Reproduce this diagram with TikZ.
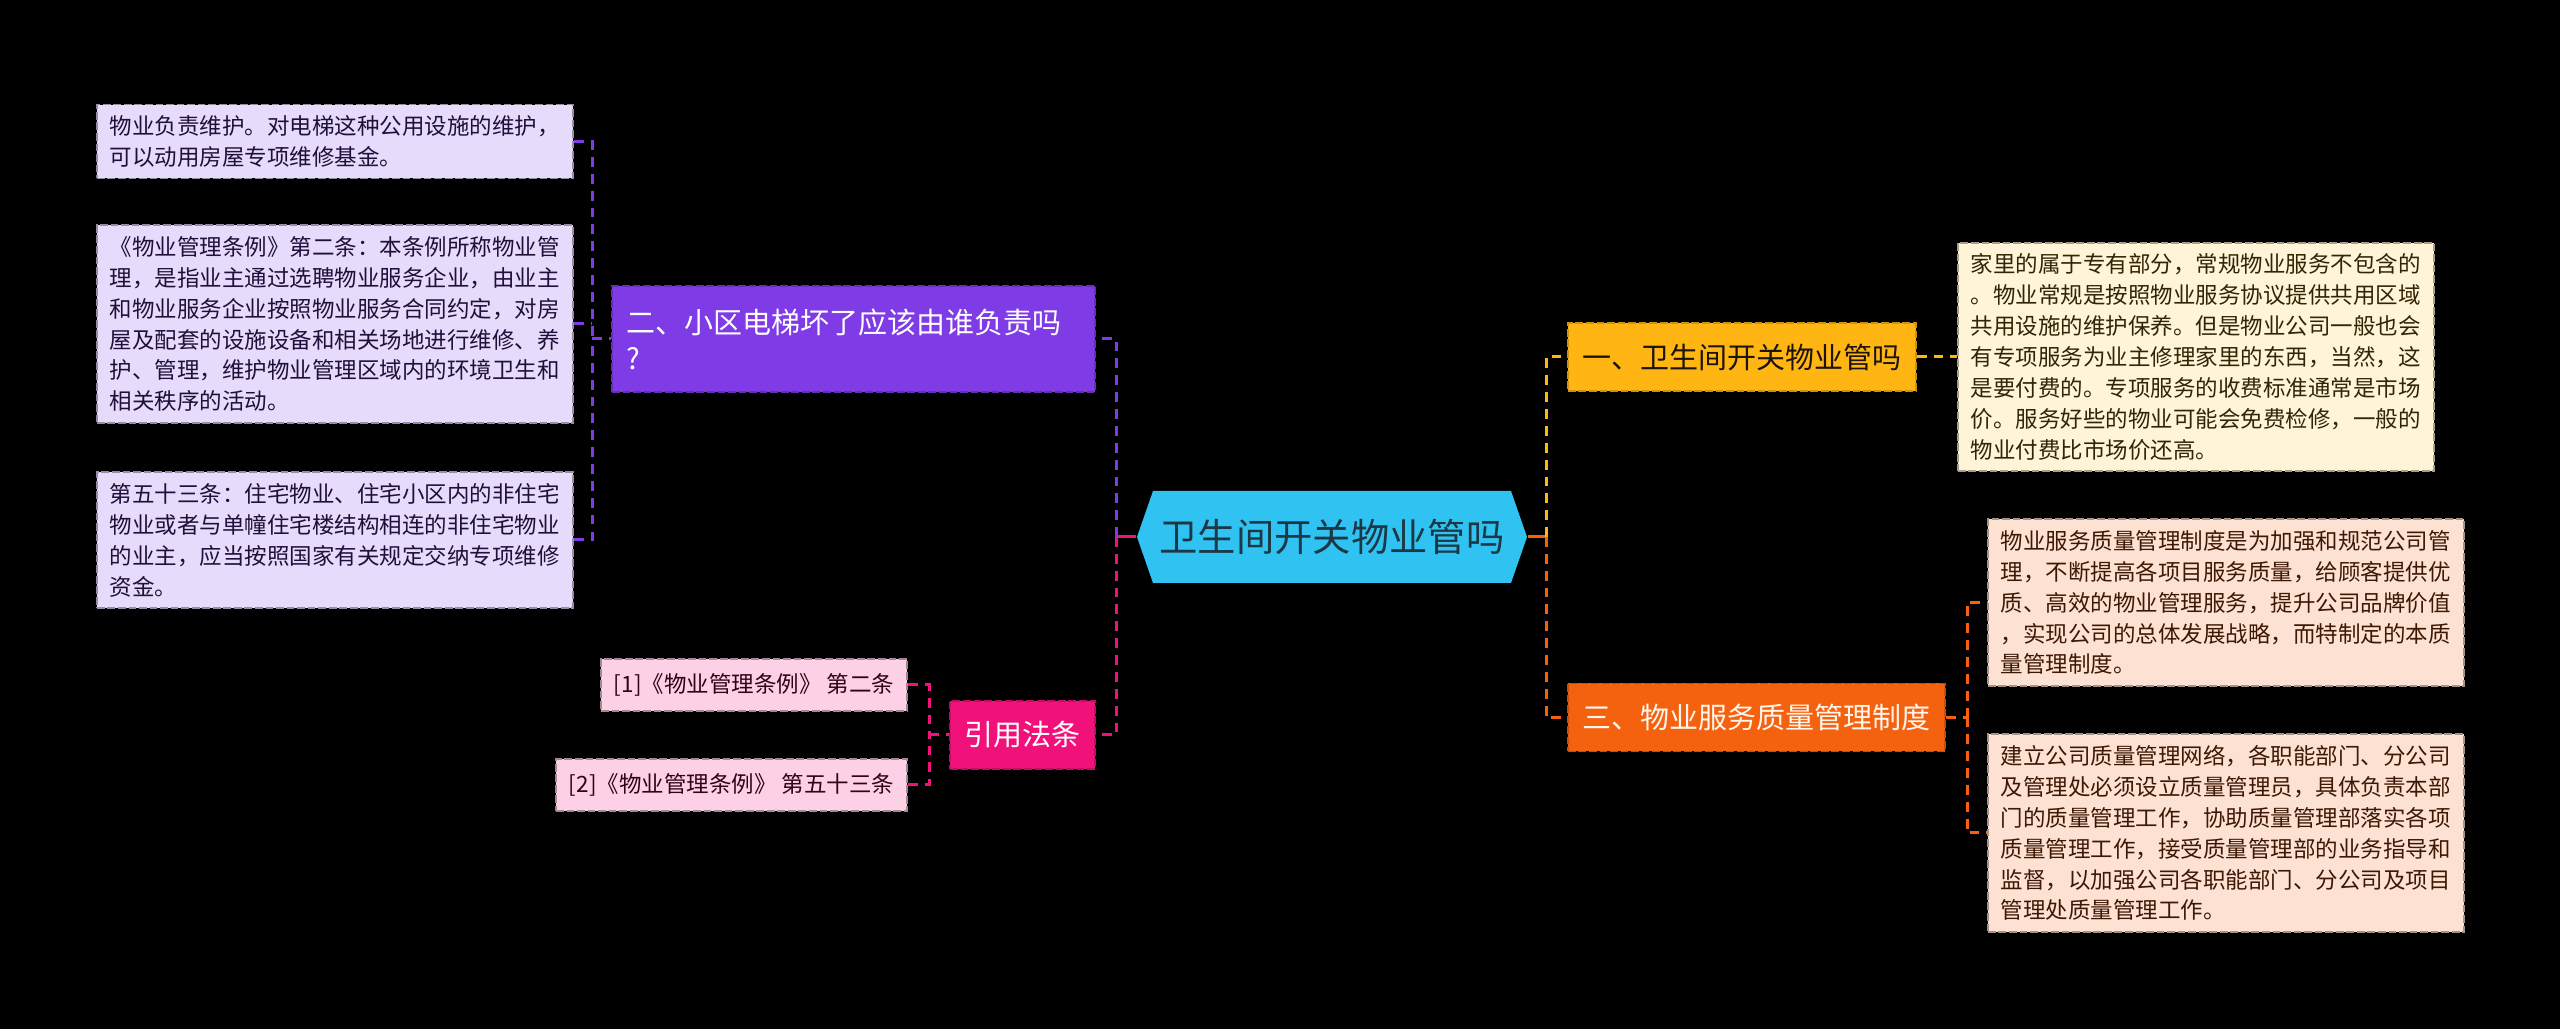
\documentclass[tikz,border=0pt]{standalone}
\usepackage{fontspec}
\setmainfont{Noto Sans CJK SC}
\usetikzlibrary{positioning,calc}
\definecolor{mmroot}{HTML}{30C3F1}
\definecolor{mmrootink}{HTML}{1C3846}
\definecolor{mmyellow}{HTML}{FFB612}
\definecolor{mmorange}{HTML}{F5620F}
\definecolor{mmpurple}{HTML}{7E3BE6}
\definecolor{mmpink}{HTML}{F0127A}
\definecolor{lfpurple}{HTML}{E6DBFA}
\definecolor{lfyellow}{HTML}{FFF4D8}
\definecolor{lforange}{HTML}{FDE2D3}
\definecolor{lfpink}{HTML}{FCD0E5}
\newcommand{\rootfont}{\fontsize{10.9pt}{13pt}\selectfont}
\newcommand{\topicfont}{\fontsize{8.25pt}{10.2pt}\selectfont}
\newcommand{\leaffont}{\fontsize{6.4pt}{8.8pt}\selectfont}

\begin{document}
\begin{tikzpicture}[
  rootbox/.style={font=\rootfont, text=mmrootink, minimum width=39mm,
                  minimum height=9.2mm, inner sep=0pt},
  topic/.style={font=\topicfont, inner xsep=1.45mm, inner ysep=0pt,
                minimum height=6.8mm, line width=0.5pt,
                dash pattern=on 2.2pt off 0.8pt},
  topicy/.style={topic, fill=mmyellow, draw=mmyellow!80!black, text=black!85!brown},
  topico/.style={topic, fill=mmorange, draw=mmorange!80!black, text=orange!8},
  topicp/.style={topic, fill=mmpurple, draw=mmpurple!80!black, text=white},
  topicm/.style={topic, fill=mmpink, draw=mmpink!80!black, text=white},
  leaf/.style={font=\leaffont, align=left, text width=45mm, inner xsep=1.3mm,
               inner ysep=1.1mm, line width=0.5pt, dash pattern=on 2.2pt off 0.8pt},
  leafp/.style={leaf, fill=lfpurple, draw=lfpurple!65!black, text=mmpurple!25!black},
  leafy/.style={leaf, fill=lfyellow, draw=lfyellow!65!black, text=mmyellow!20!black},
  leafo/.style={leaf, fill=lforange, draw=lforange!65!black, text=mmorange!25!black},
  leafm/.style={font=\leaffont, inner xsep=1.3mm, minimum height=5.2mm,
                line width=0.5pt, dash pattern=on 2.2pt off 0.8pt,
                fill=lfpink, draw=lfpink!65!black, text=mmpink!20!black},
  link/.style={line width=0.85pt, dash pattern=on 2.8pt off 2pt},
  stub/.style={line width=0.85pt},
]

\fill[black] (0,0) rectangle (25.6,-10.29);
\useasboundingbox (0,0) rectangle (25.6,-10.29);

%% ---- Root (hexagon) ----
\coordinate (rc) at (13.32,-5.37);
\fill[mmroot] ($(rc)+(-1.95,0)$) -- ++(0.16,0.46) -- ($(rc)+(1.79,0.46)$)
  -- ++(0.16,-0.46) -- ++(-0.16,-0.46) -- ($(rc)+(-1.79,-0.46)$) -- cycle;
\node[rootbox] (root) at (rc) {卫生间开关物业管吗};

%% ---- Topics ----
\node[topicy, anchor=west] (q1) at (15.67,-3.57) {一、卫生间开关物业管吗};
\node[topico, anchor=west] (q3) at (15.67,-7.175) {三、物业服务质量管理制度};
\node[topicp, anchor=east, align=left, text width=45.4mm, minimum height=10.6mm]
  (q2) at (10.96,-3.39) {二、小区电梯坏了应该由谁负责吗\\?};
\node[topicm, anchor=east] (cite) at (10.96,-7.35) {引用法条};

%% ---- Leaves, left ----
\node[leafp, anchor=west] (p1) at (0.96,-1.415)
  {物业负责维护。对电梯这种公用设施的维护，\\可以动用房屋专项维修基金。};
\node[leafp, anchor=west] (p2) at (0.96,-3.24)
  {《物业管理条例》第二条：本条例所称物业管\\理，是指业主通过选聘物业服务企业，由业主\\和物业服务企业按照物业服务合同约定，对房\\屋及配套的设施设备和相关场地进行维修、养\\护、管理，维护物业管理区域内的环境卫生和\\相关秩序的活动。};
\node[leafp, anchor=west] (p3) at (0.96,-5.40)
  {第五十三条：住宅物业、住宅小区内的非住宅\\物业或者与单幢住宅楼结构相连的非住宅物业\\的业主，应当按照国家有关规定交纳专项维修\\资金。};
\node[leafm, anchor=east] (r1) at (9.08,-6.85) {[1]《物业管理条例》 第二条};
\node[leafm, anchor=east] (r2) at (9.08,-7.85) {[2]《物业管理条例》 第五十三条};

%% ---- Leaves, right ----
\node[leafy, anchor=west] (y1) at (19.57,-3.57)
  {家里的属于专有部分，常规物业服务不包含的\\。物业常规是按照物业服务协议提供共用区域\\共用设施的维护保养。但是物业公司一般也会\\有专项服务为业主修理家里的东西，当然，这\\是要付费的。专项服务的收费标准通常是市场\\价。服务好些的物业可能会免费检修，一般的\\物业付费比市场价还高。};
\node[leafo, anchor=west] (o1) at (19.87,-6.025)
  {物业服务质量管理制度是为加强和规范公司管\\理，不断提高各项目服务质量，给顾客提供优\\质、高效的物业管理服务，提升公司品牌价值\\，实现公司的总体发展战略，而特制定的本质\\量管理制度。};
\node[leafo, anchor=west] (o2) at (19.87,-8.33)
  {建立公司质量管理网络，各职能部门、分公司\\及管理处必须设立质量管理员，具体负责本部\\门的质量管理工作，协助质量管理部落实各项\\质量管理工作，接受质量管理部的业务指导和\\监督，以加强公司各职能部门、分公司及项目\\管理处质量管理工作。};

%% ---- Junctions ----
\coordinate (jl) at (11.16,-5.37);
\coordinate (jr) at (15.46,-5.37);
\coordinate (jp) at (5.92,-3.39);
\coordinate (jc) at (9.29,-7.35);
\coordinate (jo) at (19.67,-7.175);

%% ---- Connectors ----
\draw[stub, mmpink] (root.west) -- (jl);
\draw[link, mmpurple] (jl) |- (q2.east);
\draw[link, mmpink] (jl) |- (cite.east);
\draw[stub, mmorange] (root.east) -- (jr);
\draw[link, mmyellow] (jr) |- (q1.west);
\draw[link, mmorange] (jr) |- (q3.west);

\draw[link, mmpurple] (p1.east) -| (jp);
\draw[link, mmpurple] (p3.east) -| (jp);
\draw[link, mmpurple] (p2.east) -- (p2.east -| jp);
\draw[link, mmpurple] (jp) -- (q2.west);

\draw[link, mmpink] (r1.east) -| (jc);
\draw[link, mmpink] (r2.east) -| (jc);
\draw[link, mmpink] (jc) -- (cite.west);

\draw[link, mmyellow] (q1.east) -- (y1.west);
\draw[link, mmorange] (q3.east) -- (jo);
\draw[link, mmorange] (jo) |- (o1.west);
\draw[link, mmorange] (jo) |- (o2.west);

\end{tikzpicture}
\end{document}
